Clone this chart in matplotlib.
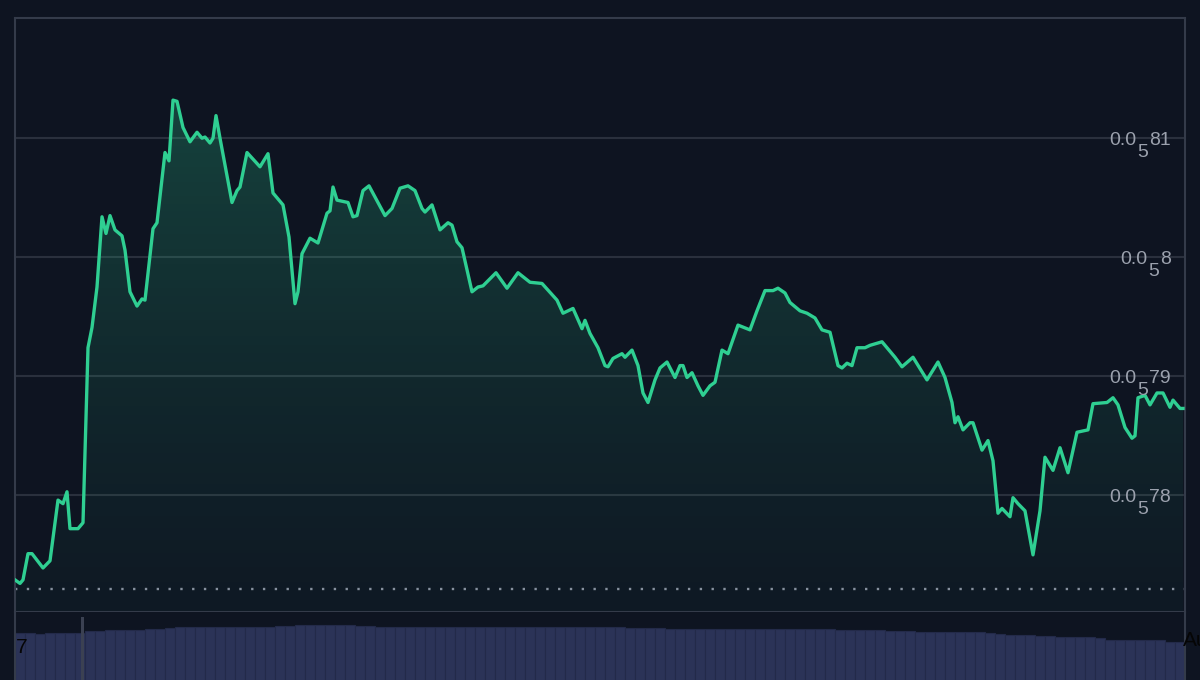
import numpy as np
import matplotlib
matplotlib.use("Agg")
import matplotlib.pyplot as plt
from matplotlib.transforms import offset_copy

#: price series (minutes from start, price in units of 1e-8)
t = [0, 5, 8, 13, 17, 28, 35, 43, 48, 52, 55, 63, 68, 73, 77, 82, 87, 91, 95, 100,
     107, 110, 115, 122, 127, 130, 138, 142, 150, 154, 158, 162, 168, 175, 182, 187, 190, 195, 198, 201,
     205, 217, 222, 225, 232, 245, 253, 258, 268, 274, 280, 283, 287, 295, 303, 312, 315, 318, 322, 333,
     338, 342, 348, 354, 370, 377, 385, 393, 400, 407, 410, 417, 425, 433, 437, 442, 447, 457, 463, 468,
     481, 492, 503, 515, 527, 542, 548, 558, 567, 570, 575, 583, 590, 593, 598, 607, 610, 617, 623, 628,
     633, 640, 645, 652, 660, 665, 668, 672, 677, 683, 688, 695, 700, 707, 713, 723, 735, 742, 750, 758,
     763, 770, 775, 785, 792, 800, 807, 815, 823, 827, 832, 837, 842, 850, 855, 867, 880, 887, 898, 912,
     923, 930, 937, 940, 943, 948, 955, 958, 967, 973, 978, 983, 987, 995, 998, 1003, 1010, 1018, 1025, 1030,
     1038, 1045, 1053, 1062, 1073, 1078, 1092, 1098, 1103, 1110, 1117, 1120, 1123, 1130, 1135, 1142, 1148, 1155, 1158, 1165,
     1168]
price = [772.9, 772.6, 772.9, 775.1, 775.1, 773.9, 774.5, 779.6, 779.3, 780.3, 777.2, 777.2, 777.7, 792.4, 794.1, 797.5, 803.4, 802.0, 803.5, 802.3,
         801.8, 800.6, 797.1, 795.9, 796.5, 796.4, 802.4, 802.9, 808.8, 808.1, 813.2, 813.1, 810.9, 809.7, 810.5, 810.0, 810.1, 809.6, 810.0, 811.9,
         810.0, 804.6, 805.6, 805.9, 808.8, 807.6, 808.7, 805.4, 804.4, 801.7, 796.1, 797.1, 800.3, 801.6, 801.2, 803.7, 803.9, 805.9, 804.8, 804.6,
         803.4, 803.5, 805.6, 806.0, 803.5, 804.1, 805.8, 806.0, 805.6, 804.1, 803.8, 804.4, 802.3, 802.9, 802.7, 801.3, 800.8, 797.1, 797.5, 797.6,
         798.7, 797.4, 798.7, 797.9, 797.8, 796.4, 795.3, 795.7, 794.0, 794.7, 793.6, 792.4, 790.9, 790.8, 791.5, 791.9, 791.6, 792.2, 790.9, 788.6,
         787.8, 789.7, 790.7, 791.2, 789.9, 790.9, 790.9, 789.9, 790.3, 789.2, 788.4, 789.2, 789.5, 792.2, 791.9, 794.3, 793.9, 795.5, 797.2, 797.2,
         797.4, 797.0, 796.2, 795.5, 795.3, 794.9, 793.9, 793.7, 790.9, 790.7, 791.1, 790.9, 792.4, 792.4, 792.6, 792.9, 791.6, 790.8, 791.6, 789.7,
         791.2, 789.9, 787.8, 786.1, 786.6, 785.5, 786.1, 786.1, 783.8, 784.6, 782.9, 778.5, 778.9, 778.2, 779.8, 779.3, 778.7, 775.0, 778.7, 783.2,
         782.1, 784.0, 781.9, 785.3, 785.5, 787.7, 787.8, 788.2, 787.6, 785.7, 784.8, 785.0, 788.2, 788.4, 787.6, 788.6, 788.6, 787.4, 788.0, 787.3,
         787.3]

#: volume bars (one per 10 minutes)
vol = [67, 67, 66, 67, 67, 67, 67,
       69, 69, 70, 70, 70, 70, 71, 71,
       72, 73, 73, 73, 73, 73, 73, 73, 73, 73, 73, 74, 74,
       75, 75, 75, 75, 75, 75, 74,
       74, 73, 73, 73, 73, 73, 73, 73, 73, 73, 73, 73, 73, 73, 73, 73, 73, 73, 73, 73, 73, 73, 73, 73, 73, 73, 72, 72,
       72, 72, 71, 71, 71, 71, 71, 71, 71, 71, 71, 71, 71, 71, 71, 71, 71, 71, 71, 70, 70, 70, 70, 70,
       69, 69, 69, 68, 68, 68, 68, 68, 68, 68, 67, 66,
       65, 65, 65, 64, 64,
       63, 63, 63, 63, 62,
       60, 60, 60, 60, 60, 60,
       58, 58]
vol_t = [5 + 10 * i for i in range(len(vol))]
spike_t, spike_vol = 67, 83

#: price axis labels: "0.0" + subscript zero count + significant digits
yticks = [780, 790, 800, 810]
tick_sig = ["78", "79", "8", "81"]
zero_count = "5"
ref_price = 772.1

bg = "#0e1421"
grid_c = "#2a303d"
line_c = "#2fcf92"
lab_c = "#9ba1ad"
lab_font = dict(family="Liberation Sans", size=14)

fig = plt.figure(figsize=(12, 6.8), dpi=100, facecolor=bg)

#: price panel
ax = fig.add_axes([15 / 1200, 68 / 680, 1170 / 1200, 594 / 680], facecolor=bg)
ax.set_xlim(0, 1170)
ax.set_ylim(770.2, 820.1)

for yv in yticks:
    ax.axhline(yv, color=grid_c, lw=1.5, zorder=1)
ax.axhline(ref_price, color="#8a90a0", lw=1.7, ls=(0, (1, 4)), zorder=2)

# gradient fill under the line
grad = np.linspace(0, 1, 256).reshape(-1, 1)
rgba = np.zeros((256, 1, 4))
rgba[..., 0] = 0.18
rgba[..., 1] = 0.81
rgba[..., 2] = 0.57
rgba[..., 3] = 0.03 + 0.27 * grad ** 1.3
im = ax.imshow(rgba, extent=[0, 1170, 770.2, 820.1], origin="lower", aspect="auto", zorder=2)
poly = ax.fill_between(t, price, 770.2, color="none")
im.set_clip_path(poly.get_paths()[0], transform=ax.transData)

ax.plot(t, price, color=line_c, lw=2.4, solid_joinstyle="round", zorder=4)

# labels are built from pieces so the subscript stays full size
renderer = fig.canvas.get_renderer()
for yv, sig in zip(yticks, tick_sig):
    x_right = -14
    tr = offset_copy(ax.transData, fig=fig, x=x_right, y=-7, units="dots")
    t1 = ax.text(1170, yv, sig, transform=tr, ha="right", va="baseline", color=lab_c, zorder=5, **lab_font)
    w = t1.get_window_extent(renderer).width
    x_right -= w + 1
    tr = offset_copy(ax.transData, fig=fig, x=x_right, y=-19, units="dots")
    t2 = ax.text(1170, yv, zero_count, transform=tr, ha="right", va="baseline", color=lab_c, zorder=5, **lab_font)
    w = t2.get_window_extent(renderer).width
    x_right -= w + 1
    tr = offset_copy(ax.transData, fig=fig, x=x_right, y=-7, units="dots")
    ax.text(1170, yv, "0.0", transform=tr, ha="right", va="baseline", color=lab_c, zorder=5, **lab_font)

ax.set_xticks([])
ax.set_yticks([])
for s in ax.spines.values():
    s.set_color("#343b4a")
    s.set_linewidth(1.5)

#: volume panel
vax = fig.add_axes([15 / 1200, -20 / 680, 1170 / 1200, 88 / 680], facecolor=bg)
vax.set_xlim(0, 1170)
vax.set_ylim(0, 88)
vax.bar(vol_t, vol, width=10, color="#2b3357", edgecolor="#232a49", linewidth=0.8)
vax.bar([spike_t], [spike_vol], width=3, color="#3b4152")
vax.set_xticks([])
vax.set_yticks([])
for k, s in vax.spines.items():
    s.set_color("#343b4a")
    s.set_linewidth(1.5)
    if k in ("top", "bottom"):
        s.set_visible(False)

fig.text(16 / 1200, 1 - 653 / 680, "7", color="#050505", fontsize=15,
         family="Liberation Sans", va="baseline", ha="left")
fig.text(1183 / 1200, 1 - 646 / 680, "Aug", color="#050505", fontsize=15,
         family="Liberation Sans", va="baseline", ha="left")

fig.savefig("out.png", dpi=100, facecolor=bg)
